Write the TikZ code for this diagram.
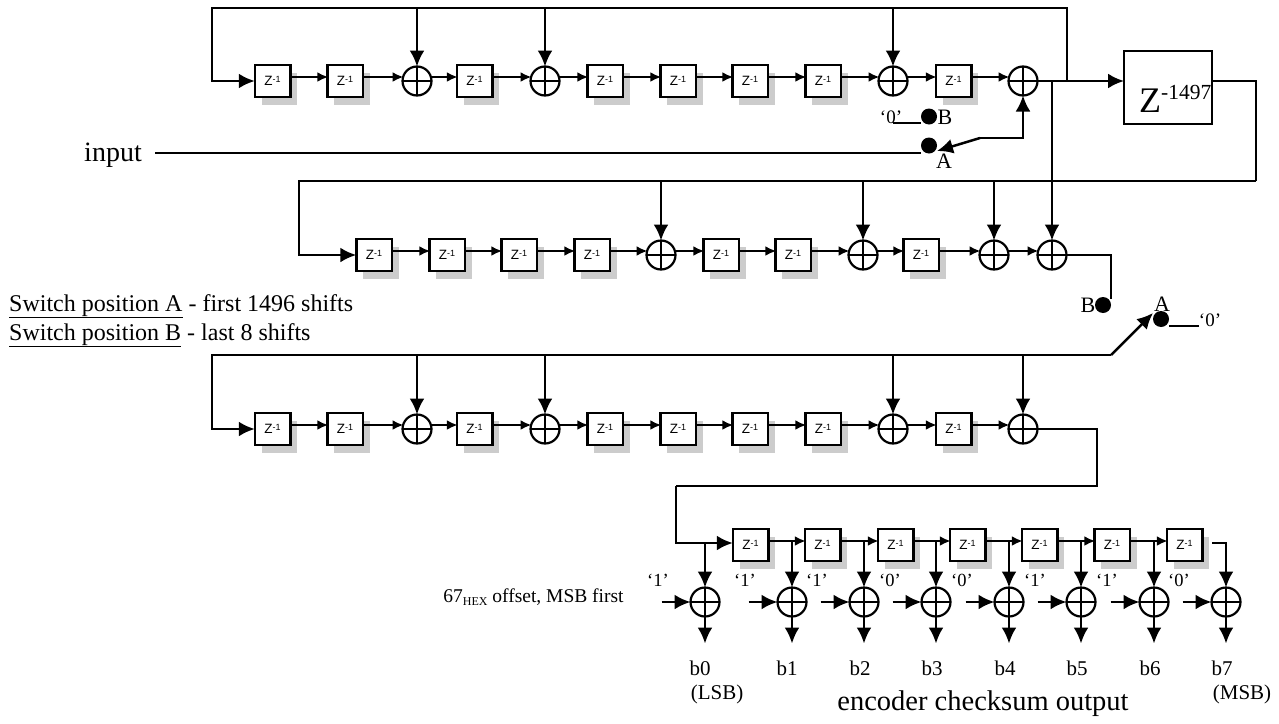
\documentclass[tikz,border=0pt]{standalone}
\usepackage{fontspec}
\setmainfont{Liberation Serif}
\newfontfamily\zfont{Liberation Sans}
\usepackage{tikz}
\usetikzlibrary{calc}
\usetikzlibrary{arrows.meta}
\usetikzlibrary{shadows}
\definecolor{shadegray}{HTML}{CCCCCC}
\tikzset{
    wire/.style={line width=2.5pt},
    thinarrow/.style={wire, shorten >=-1pt, -{Latex[length=11pt,width=10pt]}},
    bigarrow/.style={wire, -{Latex[length=16pt,width=15pt]}},
    zcell/.style={draw, line width=2.5pt, fill=white, minimum width=35.5pt, minimum height=32pt, inner sep=0pt, outer sep=0pt,
        general shadow={fill=shadegray, shadow xshift=7pt, shadow yshift=-8pt}},
    xorcell/.style={circle, draw, line width=2.2pt, minimum size=29pt, inner sep=0pt, outer sep=0pt,
        path picture={\draw[line width=1.8pt] (path picture bounding box.north) -- (path picture bounding box.south)
            (path picture bounding box.west) -- (path picture bounding box.east);}},
    swdot/.style={circle, fill=black, minimum size=16pt, inner sep=0pt, outer sep=0pt},
    txt/.style={inner sep=0pt, font=\fontsize{18.5}{20}\selectfont},
    bitlabel/.style={inner sep=0pt, font=\fontsize{21}{24}\selectfont},
    swlabel/.style={inner sep=0pt, anchor=base west, font=\fontsize{24}{26}\selectfont}
}
\newcommand{\zcellat}[3]{\node[zcell] (#1) at (#2,#3) {\zfont\fontsize{13.5}{14}\selectfont Z\raisebox{3.5pt}{\fontsize{9}{9}\selectfont -1}};}
\newcommand{\xorat}[3]{\node[xorcell] (#1) at (#2,#3) {};}
\newcommand{\chainlink}[2]{\draw[thinarrow] ([yshift=4pt]#1.east) -- ([yshift=4pt]#2.west);}
\newcommand{\tapdown}[2]{\draw[bigarrow] (#2 |- #1) -- (#2.north);}
\newcommand{\xorio}[1]{\draw[bigarrow] ([xshift=-29pt]#1.west) -- (#1.west); \draw[bigarrow] (#1.south) -- ([yshift=-27pt]#1.south);}

\begin{document}
\begin{tikzpicture}[x=1pt, y=-1pt]
    \useasboundingbox (0,0) rectangle (1279,723);
    % row 1
    \zcellat{ra1}{272.5}{81}
    \zcellat{ra2}{345}{81}
    \xorat{xa1}{417}{81}
    \zcellat{ra3}{474.5}{81}
    \xorat{xa2}{545}{81}
    \zcellat{ra4}{605}{81}
    \zcellat{ra5}{678}{81}
    \zcellat{ra6}{750}{81}
    \zcellat{ra7}{823}{81}
    \xorat{xa3}{893}{81}
    \zcellat{ra8}{953.5}{81}
    \xorat{xa4}{1023}{81}
    \node[draw, line width=2.5pt, minimum width=88pt, minimum height=73pt, inner sep=0pt, outer sep=0pt] (bigz) at (1168,87.5) {};
    \node[inner sep=0pt, anchor=base west] (bigzlabel) at (1139,112) {\fontsize{36}{36}\selectfont Z\raisebox{13pt}{\fontsize{21.5}{22}\selectfont -1497}};
    \coordinate (topleft) at (212,8);
    \coordinate (topright) at (1067,8);
    \coordinate (split) at (1052,81);
    \coordinate (wrapright) at (1256,181);
    \draw[bigarrow] (topright |- xa4.east) -- (topright) -- (topleft) |- (ra1.west);
    \tapdown{topleft}{xa1}
    \tapdown{topleft}{xa2}
    \tapdown{topleft}{xa3}
    \chainlink{ra1}{ra2}
    \chainlink{ra2}{xa1}
    \chainlink{xa1}{ra3}
    \chainlink{ra3}{xa2}
    \chainlink{xa2}{ra4}
    \chainlink{ra4}{ra5}
    \chainlink{ra5}{ra6}
    \chainlink{ra6}{ra7}
    \chainlink{ra7}{xa3}
    \chainlink{xa3}{ra8}
    \chainlink{ra8}{xa4}
    \draw[bigarrow] (xa4.east) -- ([yshift=6.5pt]bigz.west);
    \draw[wire] ([yshift=6.5pt]bigz.east) -| (wrapright);
    % first switch
    \node[swdot] (dotb) at (929,116.5) {};
    \node[swdot] (dota) at (929,145.5) {};
    \node[bitlabel, font=\fontsize{19}{20}\selectfont] (zerob) at (891,117) {‘0’};
    \node[bitlabel, font=\fontsize{22}{24}\selectfont] (labelb) at (945,117) {B};
    \node[bitlabel, font=\fontsize{22}{24}\selectfont] (labela) at (944,161) {A};
    \node[inner sep=0pt, font=\fontsize{28}{30}\selectfont] (input) at (113,155) {input};
    \coordinate (zerobend) at (893,123);
    \coordinate (inputend) at (155,153);
    \coordinate (swknee) at (980,138);
    \coordinate (swtip) at (937,151);
    \draw[wire] (zerobend) -- (dotb.west |- zerobend);
    \draw[wire] (inputend) -- (dota.west |- inputend);
    \draw[bigarrow] (swknee) -- (swtip);
    \draw[bigarrow] (swknee) -| (xa4.south);
    % row 2
    \coordinate (lefttwo) at (299,181);
    \zcellat{rb1}{374}{255}
    \zcellat{rb2}{447}{255}
    \zcellat{rb3}{519}{255}
    \zcellat{rb4}{592}{255}
    \xorat{xb1}{661}{255}
    \zcellat{rb5}{721}{255}
    \zcellat{rb6}{793}{255}
    \xorat{xb2}{863}{255}
    \zcellat{rb7}{921}{255}
    \xorat{xb3}{994}{255}
    \xorat{xb4}{1052}{255}
    \draw[bigarrow] (wrapright) -- (lefttwo) |- (rb1.west);
    \tapdown{lefttwo}{xb1}
    \tapdown{lefttwo}{xb2}
    \tapdown{lefttwo}{xb3}
    \draw[bigarrow] (split) -- (xb4.north);
    \chainlink{rb1}{rb2}
    \chainlink{rb2}{rb3}
    \chainlink{rb3}{rb4}
    \chainlink{rb4}{xb1}
    \chainlink{xb1}{rb5}
    \chainlink{rb5}{rb6}
    \chainlink{rb6}{xb2}
    \chainlink{xb2}{rb7}
    \chainlink{rb7}{xb3}
    \chainlink{xb3}{xb4}
    % second switch
    \node[swlabel] (switcha) at (9,311) {\underline{Switch position A} - first 1496 shifts};
    \node[swlabel] (switchb) at (9,340) {\underline{Switch position B} - last 8 shifts};
    \node[swdot] (dotc) at (1103,305) {};
    \node[swdot] (dotd) at (1161,319) {};
    \node[bitlabel, font=\fontsize{22}{24}\selectfont] (labelc) at (1088,305) {B};
    \node[bitlabel, font=\fontsize{22}{24}\selectfont] (labeld) at (1162,304) {A};
    \node[bitlabel, font=\fontsize{19}{20}\selectfont] (zerod) at (1210,320) {‘0’};
    \coordinate (twoend) at (1111,299);
    \coordinate (threeright) at (1111,355);
    \coordinate (threetip) at (1153,313);
    \coordinate (zerodend) at (1199,326);
    \draw[wire] (xb4.east) -| (twoend);
    \draw[bigarrow] (threeright) -- (threetip);
    \draw[wire] (zerodend) -- (dotd.east |- zerodend);
    % row 3
    \coordinate (leftthree) at (212,355);
    \zcellat{rc1}{272.5}{429}
    \zcellat{rc2}{345}{429}
    \xorat{xc1}{417}{429}
    \zcellat{rc3}{474.5}{429}
    \xorat{xc2}{545}{429}
    \zcellat{rc4}{605}{429}
    \zcellat{rc5}{678}{429}
    \zcellat{rc6}{750}{429}
    \zcellat{rc7}{823}{429}
    \xorat{xc3}{893}{429}
    \zcellat{rc8}{953.5}{429}
    \xorat{xc4}{1023}{429}
    \draw[bigarrow] (threeright) -- (leftthree) |- (rc1.west);
    \tapdown{leftthree}{xc1}
    \tapdown{leftthree}{xc2}
    \tapdown{leftthree}{xc3}
    \tapdown{leftthree}{xc4}
    \chainlink{rc1}{rc2}
    \chainlink{rc2}{xc1}
    \chainlink{xc1}{rc3}
    \chainlink{rc3}{xc2}
    \chainlink{xc2}{rc4}
    \chainlink{rc4}{rc5}
    \chainlink{rc5}{rc6}
    \chainlink{rc6}{rc7}
    \chainlink{rc7}{xc3}
    \chainlink{xc3}{rc8}
    \chainlink{rc8}{xc4}
    % row 4
    \coordinate (fourright) at (1097,486);
    \coordinate (fourleft) at (676,486);
    \zcellat{rd1}{750.5}{545}
    \zcellat{rd2}{822.5}{545}
    \zcellat{rd3}{895.5}{545}
    \zcellat{rd4}{967.5}{545}
    \zcellat{rd5}{1039.5}{545}
    \zcellat{rd6}{1112}{545}
    \zcellat{rd7}{1184.5}{545}
    \draw[wire] (xc4.east) -| (fourright) -- (fourleft);
    \draw[bigarrow] (fourleft) |- ([yshift=2pt]rd1.west);
    \chainlink{rd1}{rd2}
    \chainlink{rd2}{rd3}
    \chainlink{rd3}{rd4}
    \chainlink{rd4}{rd5}
    \chainlink{rd5}{rd6}
    \chainlink{rd6}{rd7}
    % output adders
    \coordinate (tapzero) at (0,543);
    \coordinate (taprow) at (0,541);
    \coordinate (lastout) at (1212,543);
    \xorat{xd0}{705}{602}
    \xorat{xd1}{792}{602}
    \xorat{xd2}{864}{602}
    \xorat{xd3}{936}{602}
    \xorat{xd4}{1009}{602}
    \xorat{xd5}{1081}{602}
    \xorat{xd6}{1154}{602}
    \xorat{xd7}{1226}{602}
    \tapdown{tapzero}{xd0}
    \tapdown{taprow}{xd1}
    \tapdown{taprow}{xd2}
    \tapdown{taprow}{xd3}
    \tapdown{taprow}{xd4}
    \tapdown{taprow}{xd5}
    \tapdown{taprow}{xd6}
    \draw[bigarrow] (lastout) -| (xd7.north);
    \xorio{xd0}
    \xorio{xd1}
    \xorio{xd2}
    \xorio{xd3}
    \xorio{xd4}
    \xorio{xd5}
    \xorio{xd6}
    \xorio{xd7}
    % offset bits
    \node[inner sep=0pt, font=\fontsize{19.5}{20}\selectfont] (offsettext) at (533.5,597) {67\raisebox{-3pt}{\fontsize{12}{12}\selectfont HEX} offset, MSB first};
    \node[txt] (bita) at (658,580) {‘1’};
    \node[txt] (bitb) at (745,580) {‘1’};
    \node[txt] (bitc) at (817,580) {‘1’};
    \node[txt] (bitd) at (890,580) {‘0’};
    \node[txt] (bite) at (962,580) {‘0’};
    \node[txt] (bitf) at (1035,580) {‘1’};
    \node[txt] (bitg) at (1107,580) {‘1’};
    \node[txt] (bith) at (1179,580) {‘0’};
    % output names
    \node[bitlabel] (outa) at (700,668) {b0};
    \node[bitlabel] (outb) at (787,668) {b1};
    \node[bitlabel] (outc) at (860,668) {b2};
    \node[bitlabel] (outd) at (932,668) {b3};
    \node[bitlabel] (oute) at (1005,668) {b4};
    \node[bitlabel] (outf) at (1077,668) {b5};
    \node[bitlabel] (outg) at (1150,668) {b6};
    \node[bitlabel] (outh) at (1222,668) {b7};
    \node[bitlabel] (lsb) at (717,694) {(LSB)};
    \node[bitlabel] (msb) at (1242,694) {(MSB)};
    \node[inner sep=0pt, font=\fontsize{28.5}{30}\selectfont] (checksum) at (983,704) {encoder checksum output};
\end{tikzpicture}
\end{document}
